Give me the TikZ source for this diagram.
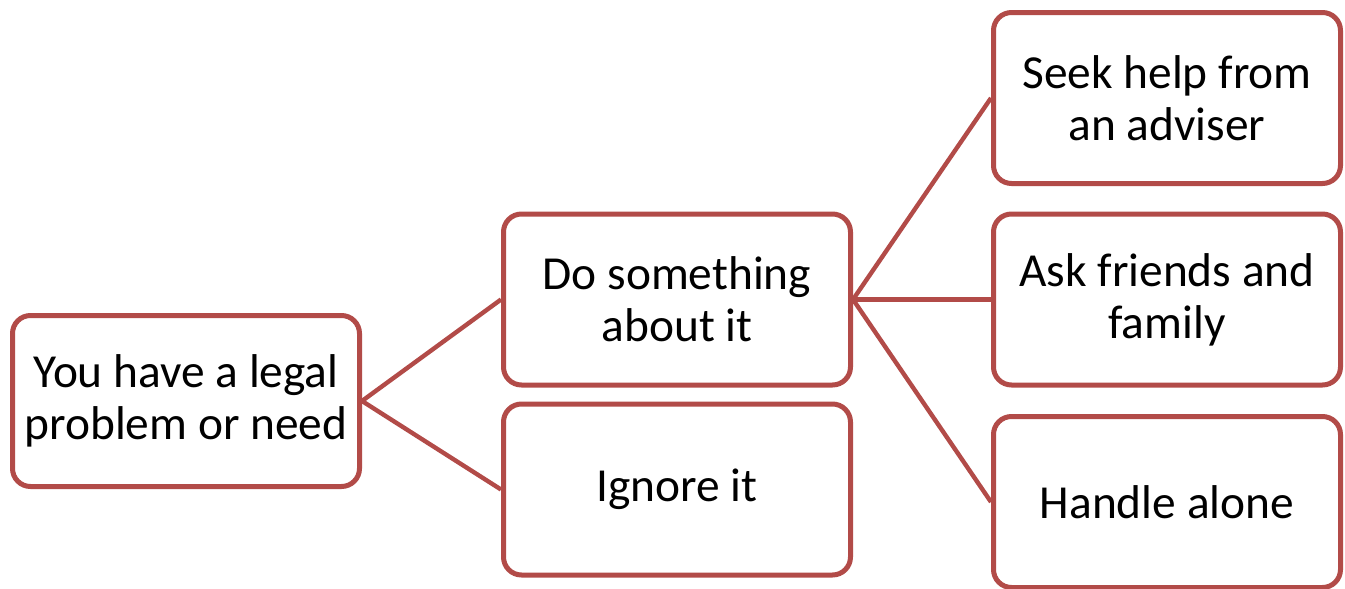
\documentclass[tikz,border=0pt]{standalone}
\usepackage{fontspec}
\setmainfont{Carlito}
\definecolor{boxred}{RGB}{178,75,72}
\begin{document}
\begin{tikzpicture}[x=0.5pt,y=-0.5pt,
  box/.style={draw=boxred, line width=2.5pt, rounded corners=9pt, fill=white,
    minimum width=173.5pt, minimum height=85.5pt, align=center, inner sep=0pt,
    font=\fontsize{23.7pt}{26pt}\selectfont, text=black},
  link/.style={draw=boxred, line width=2.2pt}]
\useasboundingbox (0,0) rectangle (1345,589);
\node[box] (legal) at (186,401) {You have a legal\\problem or need};
\node[box] (doit) at (677,299.5) {Do something\\about it};
\node[box] (ignore) at (677,489.5) {Ignore it};
\node[box] (seek) at (1167,98) {Seek help from\\an adviser};
\node[box] (ask) at (1167,299.5) {Ask friends and\\family};
\node[box] (alone) at (1167,502) {Handle alone};
\draw[link] (legal.east) -- (doit.west);
\draw[link] (legal.east) -- (ignore.west);
\draw[link] (doit.east) -- (seek.west);
\draw[link] (doit.east) -- (ask.west);
\draw[link] (doit.east) -- (alone.west);
\end{tikzpicture}
\end{document}
